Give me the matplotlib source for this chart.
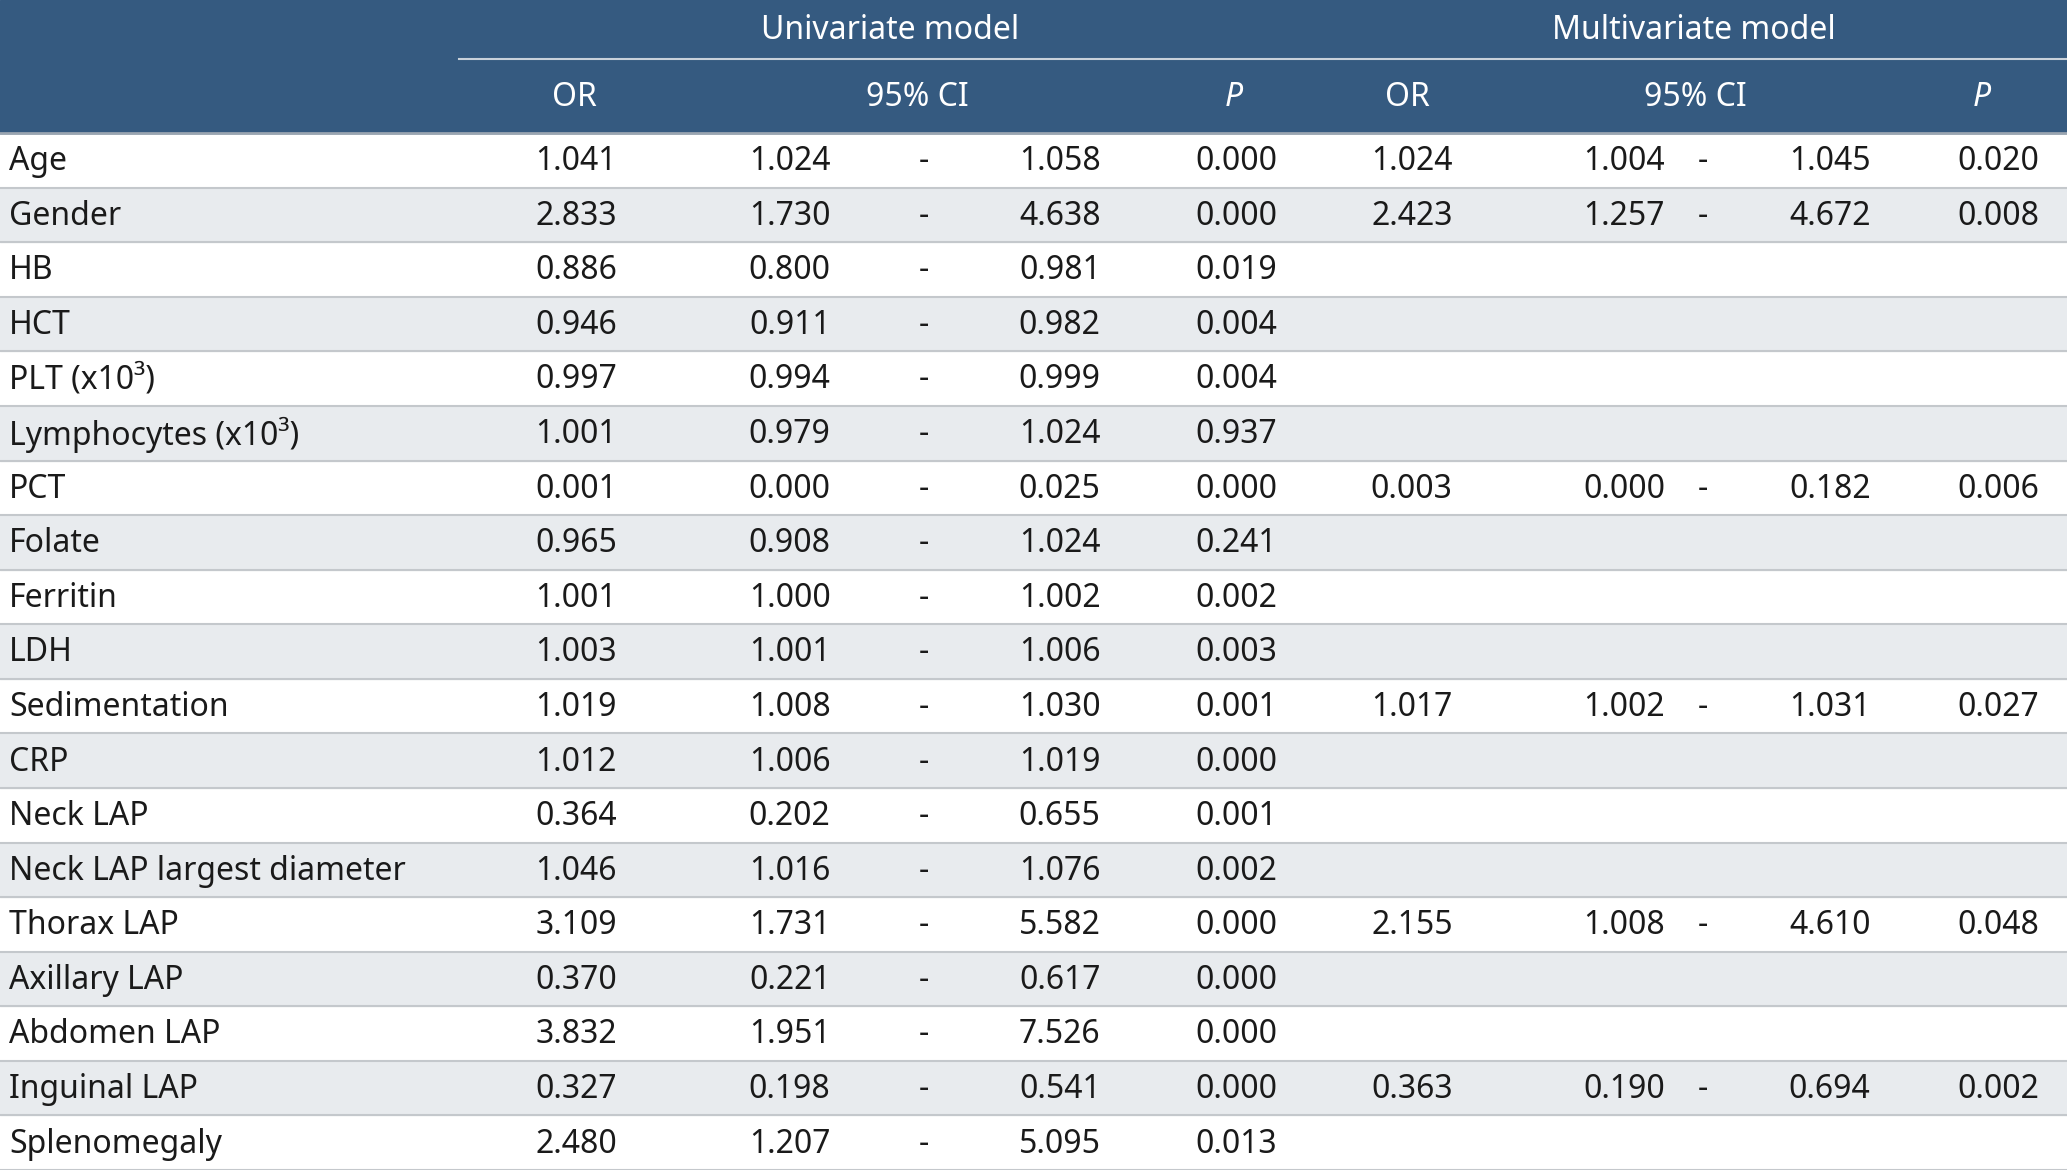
import matplotlib
matplotlib.use("Agg")
import matplotlib.pyplot as plt
from matplotlib.patches import Rectangle

labels = ["Age","Gender","HB","HCT","PLT (x10³)","Lymphocytes (x10³)","PCT","Folate","Ferritin","LDH",
          "Sedimentation","CRP","Neck LAP","Neck LAP largest diameter","Thorax LAP","Axillary LAP",
          "Abdomen LAP","Inguinal LAP","Splenomegaly"]
uni_or = ["1.041","2.833","0.886","0.946","0.997","1.001","0.001","0.965","1.001","1.003","1.019","1.012","0.364","1.046","3.109","0.370","3.832","0.327","2.480"]
uni_lo = ["1.024","1.730","0.800","0.911","0.994","0.979","0.000","0.908","1.000","1.001","1.008","1.006","0.202","1.016","1.731","0.221","1.951","0.198","1.207"]
uni_hi = ["1.058","4.638","0.981","0.982","0.999","1.024","0.025","1.024","1.002","1.006","1.030","1.019","0.655","1.076","5.582","0.617","7.526","0.541","5.095"]
uni_p  = ["0.000","0.000","0.019","0.004","0.004","0.937","0.000","0.241","0.002","0.003","0.001","0.000","0.001","0.002","0.000","0.000","0.000","0.000","0.013"]
multi = {0:("1.024","1.004","1.045","0.020"),1:("2.423","1.257","4.672","0.008"),
         6:("0.003","0.000","0.182","0.006"),10:("1.017","1.002","1.031","0.027"),
         14:("2.155","1.008","4.610","0.048"),17:("0.363","0.190","0.694","0.002")}

W, H = 1568, 888
fig = plt.figure(figsize=(20.67, 11.70), dpi=100)
ax = fig.add_axes([0, 0, 1, 1])
ax.set_xlim(0, W); ax.set_ylim(H, 0); ax.axis("off")
hdr = "#355a80"; stripe = "#e8ebee"; line = "#c4c8cc"
font = dict(family=["Noto Sans", "DejaVu Sans"], fontsize=23)
ax.add_patch(Rectangle((0, 0), W, 101, color=hdr, zorder=0))
ax.plot([348, W], [45, 45], color="#c9d1da", lw=1.5)
ax.plot([0, W], [101, 101], color="#9aa5b1", lw=2)
hb = dict(color="white", fontweight="bold", ha="center", va="center", **font)
ax.text(675, 23, "Univariate model", **hb)
ax.text(1285, 23, "Multivariate model", **hb)
for x, t in [(436,"OR"),(696,"95% CI"),(1068,"OR"),(1286,"95% CI")]:
    ax.text(x, 74, t, **hb)
for x in (936, 1503):
    ax.text(x, 74, "P", style="italic", **hb)

rh = (H - 101) / len(labels)
tf = dict(color="#1a1a1a", va="center", **font)
for i, lab in enumerate(labels):
    y0 = 101 + i * rh
    if i % 2 == 1:
        ax.add_patch(Rectangle((0, y0), W, rh, color=stripe, zorder=0))
    ax.plot([0, W], [y0 + rh, y0 + rh], color=line, lw=1.5, zorder=1)
    yc = y0 + rh / 2 + 1
    ax.text(7, yc, lab, ha="left", **tf)
    for x, v in [(468, uni_or[i]), (630, uni_lo[i]), (835, uni_hi[i]), (969, uni_p[i])]:
        ax.text(x, yc, v, ha="right", **tf)
    ax.text(701, yc, "-", ha="center", **tf)
    if i in multi:
        m = multi[i]
        for x, v in zip((1102, 1263, 1419, 1547), m):
            ax.text(x, yc, v, ha="right", **tf)
        ax.text(1292, yc, "-", ha="center", **tf)
fig.savefig("out.png", dpi=100)
